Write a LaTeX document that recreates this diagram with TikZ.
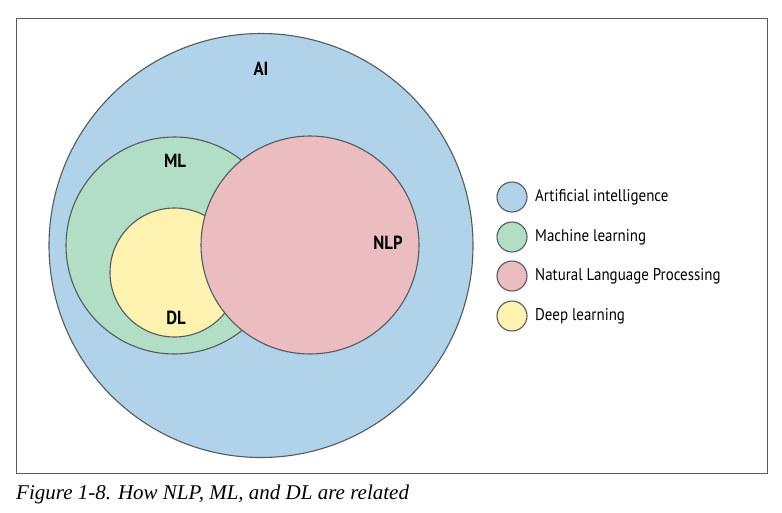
\documentclass[tikz,border=0pt]{standalone}
\usepackage{fontspec}
\setmainfont{Liberation Serif}
\newfontfamily\labelfont[FakeStretch=0.88]{PT Sans}
\definecolor{aiblue}{HTML}{B0D3E9}
\definecolor{mlgreen}{HTML}{B2DEC6}
\definecolor{nlppink}{HTML}{EBBCC0}
\definecolor{dlyellow}{HTML}{FEF2B0}
\definecolor{edge}{HTML}{555A5E}
\begin{document}
\begin{tikzpicture}[x=1pt,y=-1pt,
  setcircle/.style={circle, draw=edge, line width=1.1pt, inner sep=0pt},
  setname/.style={font=\labelfont\bfseries\fontsize{19}{20}\selectfont, inner sep=0pt},
  keydot/.style={circle, draw=edge, line width=1.1pt, minimum size=30pt, inner sep=0pt},
  keytext/.style={anchor=west, font=\labelfont\fontsize{17}{20}\selectfont, inner sep=0pt}]
\useasboundingbox (0,0) rectangle (782,512);
% frame
\node[draw=edge, line width=0.9pt, minimum width=751pt, minimum height=455pt, inner sep=0pt] (frame) at (391.5,246) {};
% nested sets
\node[setcircle, fill=aiblue, minimum size=424pt] (ai) at (261,245.5) {};
\node[setcircle, fill=mlgreen, minimum size=217pt] (ml) at (174.5,245.5) {};
\node[setcircle, fill=dlyellow, minimum size=129pt] (dl) at (174.5,272.5) {};
\node[setcircle, fill=nlppink, minimum size=218pt] (nlp) at (310,245) {};
% set names
\node[setname] (ailabel) at (261,69) {AI};
\node[setname] (mllabel) at (175,161) {ML};
\node[setname] (dllabel) at (176,318) {DL};
\node[setname] (nlplabel) at (388,243) {NLP};
% key
\node[keydot, fill=aiblue] (k1) at (512,197) {};
\node[keydot, fill=mlgreen] (k2) at (512,237) {};
\node[keydot, fill=nlppink] (k3) at (512,276) {};
\node[keydot, fill=dlyellow] (k4) at (512,316) {};
\node[keytext] (t1) at (535,197) {Artificial intelligence};
\node[keytext] (t2) at (535,237) {Machine learning};
\node[keytext] (t3) at (535,276) {Natural Language Processing};
\node[keytext] (t4) at (535,316) {Deep learning};
% caption
\node[anchor=base west, inner sep=0pt, font=\itshape\fontsize{21}{24}\selectfont] (caption) at (16,499) {Figure 1-8. How NLP, ML, and DL are related};
\end{tikzpicture}
\end{document}
